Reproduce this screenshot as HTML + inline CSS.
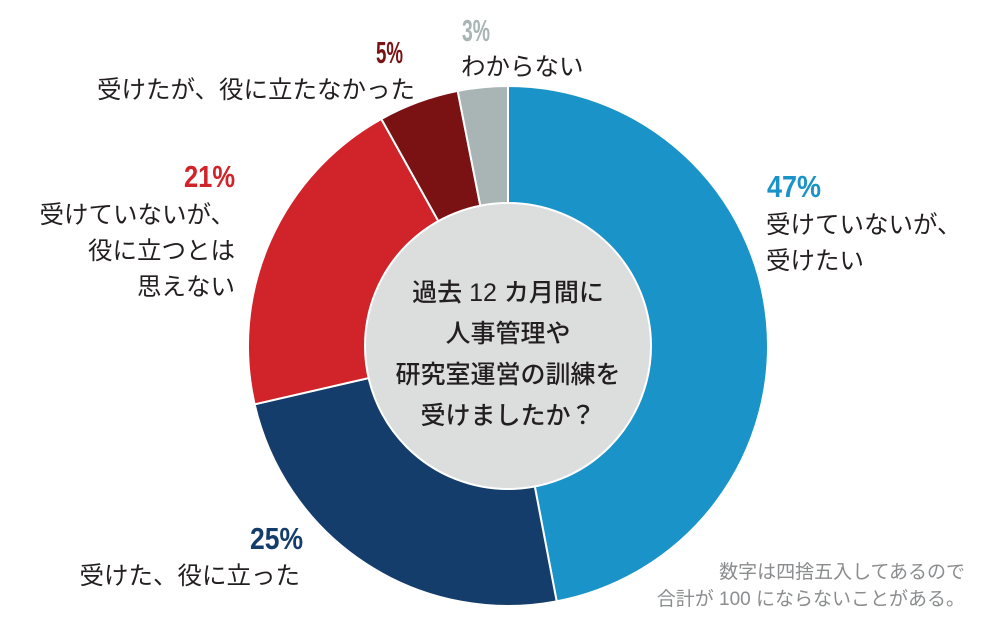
<!DOCTYPE html>
<html><head><meta charset="utf-8"><style>
body{margin:0;background:#fff;width:1000px;height:636px;overflow:hidden;font-family:"Liberation Sans","Noto Sans CJK JP",sans-serif;}
svg text{font-family:"Liberation Sans","Noto Sans CJK JP",sans-serif;}
svg text.p{font-weight:bold;font-size:31px;}
.l{font-size:24.5px;fill:#231f20;}
.c{font-size:25px;fill:#231f20;font-weight:500;}
</style></head><body>
<svg id="s" width="1000" height="636" xmlns="http://www.w3.org/2000/svg">
<g id="arcs"></g>
<circle cx="508" cy="346" r="143" fill="#dcdddd" stroke="#fff" stroke-width="2"/>
<text class="c" x="508" y="301" text-anchor="middle">過去 12 カ月間に</text>
<text class="c" x="508" y="342" text-anchor="middle">人事管理や</text>
<text class="c" x="508" y="383" text-anchor="middle">研究室運営の訓練を</text>
<text class="c" x="508" y="424" text-anchor="middle">受けましたか？</text>

<text class="p" x="767" y="197" fill="#1a93c8" textLength="54" lengthAdjust="spacingAndGlyphs">47%</text>
<text class="l" x="766" y="233">受けていないが、</text>
<text class="l" x="766" y="269">受けたい</text>

<text class="p" x="250" y="549" fill="#143d6b" textLength="53" lengthAdjust="spacingAndGlyphs">25%</text>
<text class="l" x="300" y="584" text-anchor="end">受けた、役に立った</text>

<text class="p" x="184" y="187" fill="#d0232a" textLength="51" lengthAdjust="spacingAndGlyphs">21%</text>
<text class="l" x="235" y="223" text-anchor="end">受けていないが、</text>
<text class="l" x="235" y="259" text-anchor="end">役に立つとは</text>
<text class="l" x="235" y="295" text-anchor="end">思えない</text>

<text class="p" x="376" y="63" fill="#7a1214" textLength="27" lengthAdjust="spacingAndGlyphs">5%</text>
<text class="l" x="415" y="98" text-anchor="end" font-size="25.5">受けたが、役に立たなかった</text>

<text class="p" x="462" y="41" fill="#a9b4b5" textLength="28" lengthAdjust="spacingAndGlyphs">3%</text>
<text class="l" x="461" y="75">わからない</text>

<text x="965" y="578" text-anchor="end" font-size="19" fill="#8a8c8e">数字は四捨五入してあるので</text>
<text x="965" y="605" text-anchor="end" font-size="19" fill="#8a8c8e">合計が 100 にならないことがある。</text>
</svg>
<script>
var cx=508,cy=346,r=260,d=[[47,"#1a93c8"],[24.4,"#143d6b"],[20.5,"#d0232a"],[5,"#7a1214"],[3.1,"#a9b4b5"]];
var a=0,g=document.getElementById("arcs"),h="";
function pt(t){var x=t/100*2*Math.PI;return [cx+r*Math.sin(x),cy-r*Math.cos(x)];}
d.forEach(function(s){var p1=pt(a),p2=pt(a+s[0]);var lg=s[0]>50?1:0;
h+='<path d="M'+cx+' '+cy+'L'+p1[0]+' '+p1[1]+'A'+r+' '+r+' 0 '+lg+' 1 '+p2[0]+' '+p2[1]+'Z" fill="'+s[1]+'" stroke="#fff" stroke-width="2"/>';a+=s[0];});
g.innerHTML=h;
</script>
</body></html>
